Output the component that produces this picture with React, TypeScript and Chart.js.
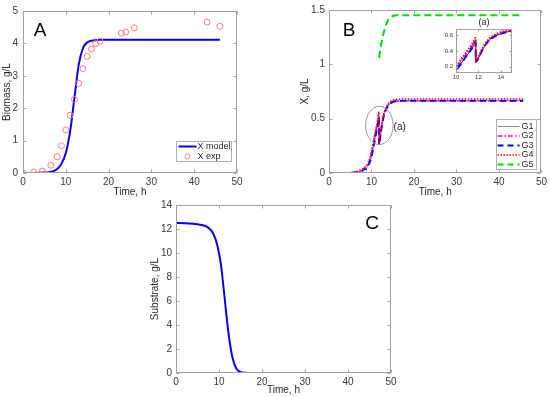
import React, { useEffect, useRef } from "react";
import { Chart, registerables } from "chart.js";
Chart.register(...registerables);

// ---------- Panel A: biomass ----------
const timeModelA = [0, 2, 4, 5, 6, 7, 8, 9, 10, 11, 12, 13, 14, 15, 16, 17, 18, 20, 30, 46];
const xModel = [0, 0.002, 0.006, 0.012, 0.025, 0.05, 0.12, 0.29, 0.62, 1.27, 2.3, 3.33, 3.85, 4.03, 4.08, 4.1, 4.11, 4.11, 4.11, 4.11];
const timeExpA = [0, 2.5, 4.5, 6.5, 8, 9, 10, 11, 12, 13, 14, 15, 16, 17, 18, 23, 24, 26, 43, 46];
const xExp = [0, 0.03, 0.06, 0.24, 0.5, 0.84, 1.33, 1.78, 2.27, 2.77, 3.22, 3.6, 3.83, 3.99, 4.07, 4.32, 4.35, 4.48, 4.66, 4.53];

// ---------- Panel B: X for G1..G5 ----------
const timeB = [3, 5, 6, 7, 8, 8.4, 8.8, 9, 9.5, 10, 10.5, 11, 11.5, 11.75, 11.77, 12, 12.5, 13, 13.5, 14, 14.5, 15, 16, 17, 20, 30, 45.7];
const g1 = [0, 0.002, 0.005, 0.012, 0.025, 0.04, 0.035, 0.06, 0.09, 0.15, 0.25, 0.35, 0.45, 0.51, 0.26, 0.31, 0.45, 0.54, 0.59, 0.62, 0.64, 0.655, 0.662, 0.664, 0.665, 0.665, 0.665];
const g2 = [0, 0.003, 0.006, 0.014, 0.03, 0.045, 0.045, 0.07, 0.11, 0.18, 0.28, 0.38, 0.48, 0.54, 0.27, 0.32, 0.46, 0.55, 0.6, 0.63, 0.648, 0.658, 0.663, 0.665, 0.665, 0.665, 0.665];
const g3 = [0, 0.002, 0.005, 0.012, 0.025, 0.04, 0.035, 0.06, 0.09, 0.15, 0.25, 0.35, 0.45, 0.51, 0.26, 0.31, 0.45, 0.54, 0.59, 0.62, 0.64, 0.655, 0.662, 0.664, 0.665, 0.665, 0.665];
const g4 = [0, 0.004, 0.009, 0.02, 0.04, 0.055, 0.06, 0.08, 0.12, 0.2, 0.3, 0.4, 0.5, 0.565, 0.27, 0.33, 0.47, 0.56, 0.61, 0.64, 0.66, 0.672, 0.678, 0.68, 0.68, 0.68, 0.68];
const timeG5 = [11.8, 12, 12.3, 12.6, 13, 13.4, 13.8, 14.3, 15, 15.5, 16, 20, 30, 45.7];
const g5 = [1.06, 1.12, 1.19, 1.25, 1.31, 1.36, 1.4, 1.43, 1.445, 1.45, 1.452, 1.452, 1.452, 1.452];

// ---------- Panel C: substrate ----------
const timeC = [0, 2, 4, 5, 6, 7, 8, 8.5, 9, 9.5, 10, 10.5, 11, 11.5, 12, 12.5, 13, 13.5, 14, 14.5, 15, 16, 17, 20, 45.7];
const substrate = [12.5, 12.48, 12.44, 12.4, 12.33, 12.22, 11.95, 11.7, 11.35, 10.8, 10.0, 8.9, 7.3, 5.6, 3.9, 2.55, 1.5, 0.82, 0.4, 0.19, 0.09, 0.02, 0.005, 0, 0];

const FONT = '"Liberation Sans", Arial, Helvetica, sans-serif';
const TICK_COLOR = "#3a3a3a";
const BOX_COLOR = "#a0a0a0";

const pts = (xs: number[], ys: number[]) => xs.map((x, i) => ({ x, y: ys[i] }));
const fmt = (v: any) => String(Math.round(Number(v) * 1000) / 1000);

type LegendRow = { label: string; color: string; width: number; dash: number[]; marker?: boolean };
type Decor = {
  tick: number;
  tag?: { text: string; x: number; y: number; size: number };
  legend?: { right: number; bottom: number; w: number; h: number; rows: LegendRow[]; rowTop: number; rowGap: number; sample: [number, number]; textX: number; size: number };
  ellipse?: { x: number; y: number; rx: number; ry: number };
  note?: { text: string; x: number; y: number };
  heading?: { text: string; dy: number; size: number };
};

function decor(d: Decor) {
  return {
    id: "decor",
    afterDraw(chart: any) {
      const { ctx, chartArea: a, scales } = chart;
      const xs = scales.x, ys = scales.y;
      ctx.save();
      ctx.setLineDash([]);
      // box
      ctx.strokeStyle = BOX_COLOR;
      ctx.lineWidth = 1;
      const L = Math.round(a.left) + 0.5, T = Math.round(a.top) + 0.5;
      const R = Math.round(a.right) - 0.5, B = Math.round(a.bottom) - 0.5;
      ctx.strokeRect(L, T, R - L, B - T);
      ctx.beginPath();
      xs.ticks.forEach((t: any) => {
        const p = Math.round(xs.getPixelForValue(t.value)) + 0.5;
        ctx.moveTo(p, B); ctx.lineTo(p, B - d.tick);
        ctx.moveTo(p, T); ctx.lineTo(p, T + d.tick);
      });
      ys.ticks.forEach((t: any) => {
        const p = Math.round(ys.getPixelForValue(t.value)) + 0.5;
        ctx.moveTo(L, p); ctx.lineTo(L + d.tick, p);
        ctx.moveTo(R, p); ctx.lineTo(R - d.tick, p);
      });
      ctx.stroke();

      if (d.tag) {
        ctx.fillStyle = "#000";
        ctx.font = `${d.tag.size}px ${FONT}`;
        ctx.textAlign = "center";
        ctx.textBaseline = "middle";
        ctx.fillText(d.tag.text, xs.getPixelForValue(d.tag.x), ys.getPixelForValue(d.tag.y));
      }
      if (d.heading) {
        ctx.fillStyle = "#262626";
        ctx.font = `${d.heading.size}px ${FONT}`;
        ctx.textAlign = "center";
        ctx.textBaseline = "middle";
        ctx.fillText(d.heading.text, (a.left + a.right) / 2, a.top - d.heading.dy);
      }
      if (d.ellipse) {
        const e = d.ellipse;
        const cx = xs.getPixelForValue(e.x), cy = ys.getPixelForValue(e.y);
        const rx = Math.abs(xs.getPixelForValue(e.x + e.rx) - cx);
        const ry = Math.abs(ys.getPixelForValue(e.y + e.ry) - cy);
        ctx.strokeStyle = "#9a9a9a";
        ctx.lineWidth = 1;
        ctx.beginPath();
        ctx.ellipse(cx, cy, rx, ry, 0, 0, Math.PI * 2);
        ctx.stroke();
      }
      if (d.note) {
        ctx.fillStyle = "#262626";
        ctx.font = `10px ${FONT}`;
        ctx.textAlign = "left";
        ctx.textBaseline = "middle";
        ctx.fillText(d.note.text, xs.getPixelForValue(d.note.x), ys.getPixelForValue(d.note.y));
      }
      if (d.legend) {
        const g = d.legend;
        const bx = Math.round(a.right - g.right - g.w) + 0.5;
        const by = Math.round(a.bottom - g.bottom - g.h) + 0.5;
        ctx.fillStyle = "#fff";
        ctx.fillRect(bx, by, g.w, g.h);
        ctx.strokeStyle = "#b0b0b0";
        ctx.lineWidth = 1;
        ctx.setLineDash([]);
        ctx.strokeRect(bx, by, g.w, g.h);
        g.rows.forEach((r, i) => {
          const y = by + g.rowTop + i * g.rowGap;
          if (r.marker) {
            ctx.strokeStyle = r.color;
            ctx.lineWidth = r.width;
            ctx.setLineDash([]);
            ctx.beginPath();
            ctx.arc(bx + (g.sample[0] + g.sample[1]) / 2, y, 2.5, 0, Math.PI * 2);
            ctx.stroke();
          } else {
            ctx.strokeStyle = r.color;
            ctx.lineWidth = r.width;
            ctx.setLineDash(r.dash);
            ctx.beginPath();
            ctx.moveTo(bx + g.sample[0], y);
            ctx.lineTo(bx + g.sample[1], y);
            ctx.stroke();
          }
          ctx.setLineDash([]);
          ctx.fillStyle = "#262626";
          ctx.font = `${g.size}px ${FONT}`;
          ctx.textAlign = "left";
          ctx.textBaseline = "middle";
          ctx.fillText(r.label, bx + g.textX, y);
        });
      }
      ctx.restore();
    },
  };
}

function scale(axis: "x" | "y", min: number, max: number, step: number, fixed: number, size: number, pad: number, title?: string, titlePad?: any) {
  return {
    type: "linear",
    min,
    max,
    grid: { display: false, drawTicks: false },
    border: { display: false },
    ticks: {
      stepSize: step,
      includeBounds: false,
      autoSkip: false,
      maxRotation: 0,
      minRotation: 0,
      padding: pad,
      color: TICK_COLOR,
      font: { family: FONT, size },
      callback: (v: any) => fmt(v),
    },
    title: title
      ? { display: true, text: title, color: "#262626", font: { family: FONT, size: 10 }, padding: titlePad }
      : { display: false },
    afterFit: (s: any) => {
      if (axis === "x") s.height = fixed;
      else s.width = fixed;
    },
  };
}

function lineDs(label: string, data: any[], color: string, width: number, dash: number[], order = 0) {
  return {
    label,
    data,
    borderColor: color,
    backgroundColor: color,
    borderWidth: width,
    borderDash: dash,
    pointRadius: 0,
    fill: false,
    cubicInterpolationMode: "monotone",
    order,
  };
}

function baseOptions(padding: any, scales: any) {
  return {
    responsive: false,
    maintainAspectRatio: false,
    animation: false,
    devicePixelRatio: 1,
    layout: { padding },
    plugins: { legend: { display: false }, tooltip: { enabled: false }, title: { display: false } },
    events: [],
    scales,
  };
}

const legendA: LegendRow[] = [
  { label: "X model", color: "#0000ff", width: 2, dash: [] },
  { label: "X exp", color: "#ff7f7f", width: 1, dash: [], marker: true },
];
const legendB: LegendRow[] = [
  { label: "G1", color: "#8c8c8c", width: 1, dash: [] },
  { label: "G2", color: "#ff00ff", width: 1.5, dash: [5, 2, 1.5, 2] },
  { label: "G3", color: "#0000ff", width: 2, dash: [6, 4] },
  { label: "G4", color: "#ff0000", width: 1.5, dash: [1.5, 1.5] },
  { label: "G5", color: "#00dd00", width: 2, dash: [6, 4] },
];

function configA(): any {
  return {
    type: "line",
    data: {
      datasets: [
        lineDs("X model", pts(timeModelA, xModel), "#0000ff", 2, [], 1),
        {
          label: "X exp",
          data: pts(timeExpA, xExp),
          showLine: false,
          pointRadius: 3,
          pointStyle: "circle",
          pointBorderWidth: 1,
          borderColor: "#ff7f7f",
          backgroundColor: "rgba(0,0,0,0)",
          order: 0,
        },
      ],
    },
    options: baseOptions({ top: 7, right: 38, left: 0, bottom: 2 }, {
      x: scale("x", 0, 50, 10, 25, 10, 3, "Time, h", { top: 0, bottom: 0 }),
      y: scale("y", 0, 5, 1, 23, 10, 5, "Biomass, g/L", { top: 1, bottom: 0 }),
    }),
    plugins: [
      decor({
        tick: 3,
        tag: { text: "A", x: 4, y: 4.4, size: 19 },
        legend: { right: 6, bottom: 12, w: 55, h: 20, rows: legendA, rowTop: 5, rowGap: 10, sample: [2, 20], textX: 21, size: 9 },
      }),
    ],
  };
}

function bDatasets(inset: boolean) {
  const w = inset ? 2 : 1.5;
  const ds: any[] = [
    lineDs("G4", pts(timeB, g4), "#ff0000", w, [1.5, 1.5], 0),
    lineDs("G3", pts(timeB, g3), "#0000ff", 2, [6, 4], 1),
    lineDs("G2", pts(timeB, g2), "#ff00ff", 1.5, [5, 2, 1.5, 2], 2),
    lineDs("G1", pts(timeB, g1), inset ? "#222222" : "#808080", 1, [], 3),
  ];
  if (!inset) ds.push(lineDs("G5", pts(timeG5, g5), "#00dd00", 2, [7, 4], 4));
  return ds;
}

function configB(): any {
  return {
    type: "line",
    data: { datasets: bDatasets(false) },
    options: baseOptions({ top: 7, right: 8, left: 0, bottom: 2 }, {
      x: scale("x", 0, 50, 10, 25, 10, 3, "Time, h", { top: 0, bottom: 0 }),
      y: scale("y", 0, 1.5, 0.5, 54, 10, 4, "X, g/L", { top: 24.5, bottom: 0 }),
    }),
    plugins: [
      decor({
        tick: 3,
        tag: { text: "B", x: 4.7, y: 1.31, size: 19 },
        ellipse: { x: 11.85, y: 0.438, rx: 3.24, ry: 0.176 },
        note: { text: "(a)", x: 15.2, y: 0.425 },
        legend: { right: 5, bottom: 4, w: 40, h: 50, rows: legendB, rowTop: 7, rowGap: 9.5, sample: [1, 23], textX: 25, size: 9 },
      }),
    ],
  };
}

function configInset(): any {
  return {
    type: "line",
    data: { datasets: bDatasets(true) },
    options: baseOptions({ top: 17, right: 8, left: 0, bottom: 0 }, {
      x: scale("x", 10, 15, 2, 9, 6, 0.5),
      y: scale("y", 0.12, 0.68, 0.2, 26, 6, 3),
    }),
    plugins: [decor({ tick: 2, heading: { text: "(a)", dy: 6.5, size: 9 } })],
  };
}

function configC(): any {
  return {
    type: "line",
    data: { datasets: [lineDs("Substrate", pts(timeC, substrate), "#0000ff", 2, [], 0)] },
    options: baseOptions({ top: 8, right: 19, left: 0, bottom: 1 }, {
      x: scale("x", 0, 50, 10, 23, 10, 3, "Time, h", { top: 0, bottom: 0 }),
      y: scale("y", 0, 14, 2, 46, 10, 4, "Substrate, g/L", { top: 19, bottom: 0 }),
    }),
    plugins: [decor({ tick: 3, tag: { text: "C", x: 45.6, y: 12.44, size: 19 } })],
  };
}

export default function App() {
  const refA = useRef<HTMLCanvasElement>(null);
  const refB = useRef<HTMLCanvasElement>(null);
  const refI = useRef<HTMLCanvasElement>(null);
  const refC = useRef<HTMLCanvasElement>(null);

  useEffect(() => {
    const charts = [
      new Chart(refA.current as HTMLCanvasElement, configA()),
      new Chart(refB.current as HTMLCanvasElement, configB()),
      new Chart(refC.current as HTMLCanvasElement, configC()),
      new Chart(refI.current as HTMLCanvasElement, configInset()),
    ];
    return () => charts.forEach((c) => c.destroy());
  }, []);

  const abs = (left: number, top: number, w: number, h: number): React.CSSProperties => ({
    position: "absolute",
    left,
    top,
    width: w,
    height: h,
  });

  return (
    <div style={{ position: "absolute", left: 0, top: 0, width: 550, height: 397, background: "#fff", overflow: "hidden" }}>
      <canvas ref={refA} width={275} height={200} style={abs(0, 0, 275, 200)} />
      <canvas ref={refB} width={275} height={200} style={abs(275, 0, 275, 200)} />
      <canvas ref={refC} width={280} height={202} style={abs(130, 195, 280, 202)} />
      <canvas ref={refI} width={90} height={70} style={abs(430, 12, 90, 70)} />
    </div>
  );
}
